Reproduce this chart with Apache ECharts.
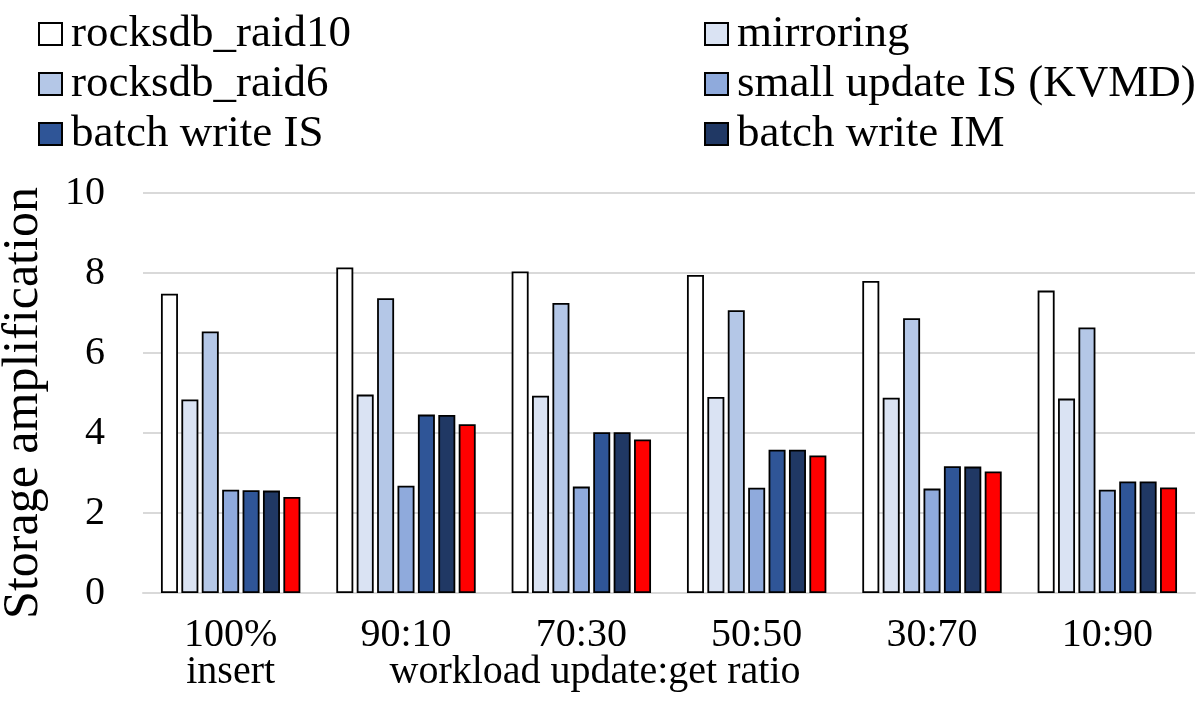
<!DOCTYPE html>
<html>
<head>
<meta charset="utf-8">
<script src="https://cdn.jsdelivr.net/npm/echarts@6/dist/echarts.min.js"></script>
<style>
html,body{margin:0;padding:0;background:#fff;}
#chart{width:1201px;height:719px;}
</style>
</head>
<body>
<div id="chart"></div>
<script>
const categories = ['100%\ninsert', '90:10', '70:30', '50:50', '30:70', '10:90'];
const yTicks = [0, 2, 4, 6, 8, 10];
const seriesNames = ['rocksdb_raid10', 'mirroring', 'rocksdb_raid6', 'small update IS (KVMD)', 'batch write IS', 'batch write IM', 'batch write IM (red)'];
const rocksdbRaid10 = [7.48, 8.14, 8.04, 7.95, 7.80, 7.56];
const mirroring = [4.84, 4.96, 4.93, 4.90, 4.88, 4.86];
const rocksdbRaid6 = [6.54, 7.37, 7.25, 7.07, 6.87, 6.64];
const smallUpdateIS = [2.58, 2.68, 2.66, 2.63, 2.61, 2.58];
const batchWriteIS = [2.57, 4.46, 4.02, 3.58, 3.17, 2.79];
const batchWriteIM = [2.56, 4.45, 4.02, 3.58, 3.16, 2.79];
const redSeries = [2.40, 4.22, 3.84, 3.44, 3.04, 2.64];

const values = [rocksdbRaid10, mirroring, rocksdbRaid6, smallUpdateIS, batchWriteIS, batchWriteIM, redSeries];
const colors = ['#FFFFFF', '#DAE3F3', '#B4C7E7', '#8FAADC', '#2F5597', '#203864', '#FF0000'];
const FONT = '"Liberation Serif", "Times New Roman", serif';

const chart = echarts.init(document.getElementById('chart'), null, {renderer: 'canvas'});

const legendCommon = {
  orient: 'vertical',
  top: 4,
  itemWidth: 23,
  itemHeight: 22,
  itemGap: 0,
  icon: 'rect',
  selectedMode: false,
  itemStyle: {borderColor: '#000', borderWidth: 2},
  textStyle: {fontFamily: FONT, fontSize: 45, color: '#000', lineHeight: 50, padding: [0, 0, 0, 4]}
};

chart.setOption({
  animation: false,
  backgroundColor: '#fff',
  textStyle: {fontFamily: FONT},
  legend: [
    Object.assign({}, legendCommon, {left: 33, data: [seriesNames[0], seriesNames[2], seriesNames[4]]}),
    Object.assign({}, legendCommon, {left: 699, data: [seriesNames[1], seriesNames[3], seriesNames[5]]})
  ],
  grid: {left: 143, right: 6, top: 193, bottom: 126, containLabel: false, outerBoundsMode: 'none'},
  xAxis: {
    type: 'category',
    data: categories,
    name: 'workload update:get ratio',
    nameLocation: 'middle',
    nameGap: 59,
    nameMoveOverlap: false,
    nameTextStyle: {fontFamily: FONT, fontSize: 40, color: '#000', padding: [0, 148, 0, 0]},
    axisLine: {show: true, lineStyle: {color: '#D9D9D9', width: 2}},
    axisTick: {show: false},
    axisLabel: {fontFamily: FONT, fontSize: 40, color: '#000', margin: 24, lineHeight: 37}
  },
  yAxis: {
    type: 'value',
    min: yTicks[0],
    max: yTicks[yTicks.length - 1],
    interval: yTicks[1] - yTicks[0],
    name: 'Storage amplification',
    nameLocation: 'middle',
    nameRotate: 90,
    nameGap: 94,
    nameMoveOverlap: false,
    nameTextStyle: {fontFamily: FONT, fontSize: 50, color: '#000', padding: [0, 20, 0, 0]},
    axisLine: {show: false},
    axisTick: {show: false},
    splitLine: {show: true, lineStyle: {color: '#D9D9D9', width: 2}},
    axisLabel: {fontFamily: FONT, fontSize: 40, color: '#000', margin: 38}
  },
  series: values.map((v, i) => ({
    name: seriesNames[i],
    type: 'bar',
    data: v,
    barWidth: 17,
    barGap: '20%',
    itemStyle: {color: colors[i], borderColor: '#000', borderWidth: 1.8}
  }))
});
</script>
</body>
</html>
